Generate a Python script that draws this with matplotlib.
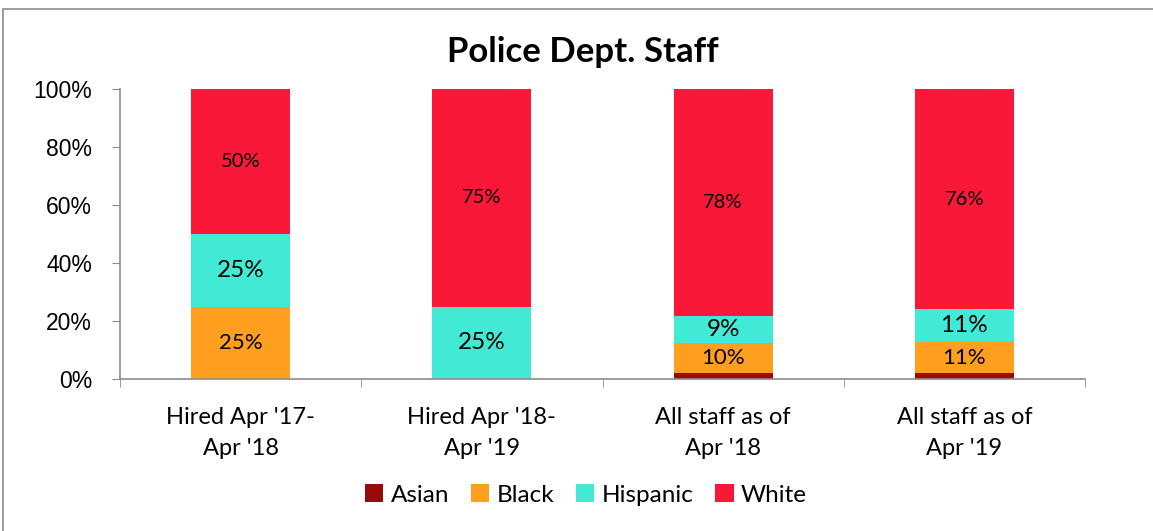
# подключаем библиотеки
import matplotlib.pyplot as plt
from matplotlib.patches import Rectangle
import numpy as np

# данные (доли, %)
categories = ["Hired Apr '17-\nApr '18", "Hired Apr '18-\nApr '19",
              "All staff as of\nApr '18", "All staff as of\nApr '19"]
asian = [0, 0, 1.9, 1.9]
black = [25, 0, 10.5, 11.0]
hispanic = [25, 25, 9.2, 11.2]
white = [50, 75, 78.4, 75.9]

series = ['Asian', 'Black', 'Hispanic', 'White']
colors = ['#9B0A0A', '#FF9F1F', '#42EAD6', '#FA1838']
label_sizes = [None, 16, 17.5, 14.5]

plt.rcParams['font.family'] = ['Lato', 'DejaVu Sans']

fig = plt.figure(figsize=(11.53, 5.31), dpi=100)
ax = fig.add_axes([120 / 1153, 1 - 379 / 531, 965 / 1153, 290 / 531])

# рамка вокруг графика
fig.patches.append(Rectangle((3 / 1153, -0.1), 1.2, 1 - 9 / 531 + 0.1,
                             transform=fig.transFigure, fill=False,
                             edgecolor='#8c8c8c', linewidth=1.2))

x = np.arange(len(categories))
bottom = np.zeros(len(categories))
for name, vals, col, fs in zip(series, [asian, black, hispanic, white], colors, label_sizes):
    vals = np.array(vals, dtype=float)
    ax.bar(x, vals, width=0.41, bottom=bottom, color=col, label=name, zorder=2)
    if fs is not None:
        for xi, v, b in zip(x, vals, bottom):
            if v > 0:
                ax.text(xi, b + v / 2, f'{round(v):.0f}%', ha='center', va='center',
                        fontsize=fs, color='black', zorder=3)
    bottom += vals

# оформляем оси
ax.set_xlim(-0.5, len(categories) - 0.5)
ax.set_ylim(0, 100)
ax.set_yticks(range(0, 101, 20))
ax.set_yticklabels([f'{v}%' for v in range(0, 101, 20)],
                   family=['Liberation Sans', 'DejaVu Sans'], fontsize=16.5)
ax.set_xticks(x)
ax.set_xticklabels(categories, fontsize=17, linespacing=1.6)
ax.set_xticks(np.arange(-0.5, len(categories)), minor=True)
ax.tick_params(axis='x', which='major', length=0, pad=20)
ax.tick_params(axis='x', which='minor', length=6, color='#8c8c8c', direction='out')
ax.tick_params(axis='y', length=6, color='#8c8c8c', direction='out', pad=14)
for s in ['top', 'right']:
    ax.spines[s].set_visible(False)
for s in ['left', 'bottom']:
    ax.spines[s].set_color('#8c8c8c')
    ax.spines[s].set_linewidth(1.2)

fig.text(583 / 1153, 1 - 52 / 531, 'Police Dept. Staff', fontsize=25,
         fontweight='bold', ha='center', va='center')

fig.legend(loc='center', bbox_to_anchor=(586 / 1153, 1 - 495 / 531), ncol=4,
           frameon=False, fontsize=17.5, handlelength=0.75, handleheight=0.75,
           handletextpad=0.3, columnspacing=0.9)

fig.savefig('out.png', dpi=100)
